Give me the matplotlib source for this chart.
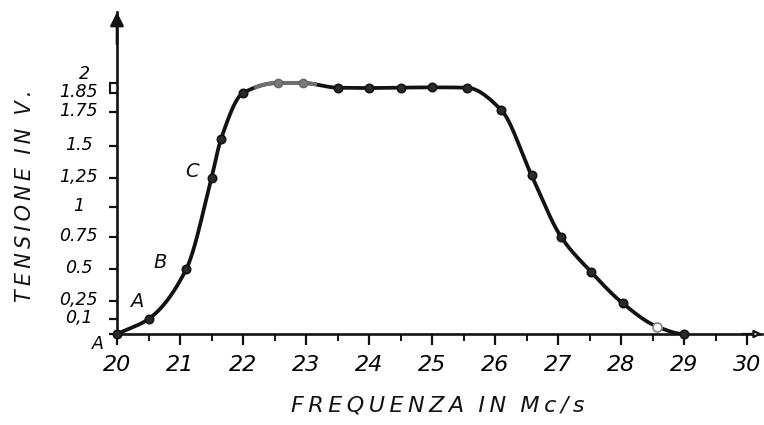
import numpy as np
import matplotlib
matplotlib.use("Agg")
import matplotlib.pyplot as plt
from matplotlib.transforms import ScaledTranslation

# Measured response: frequency (Mc/s) and output voltage (V)
freq_mcs = [20.0, 20.5, 21.1, 21.5, 21.65, 22.0, 22.55, 22.95, 23.5, 24.0,
            24.5, 25.0, 25.55, 26.1, 26.58, 27.05, 27.52, 28.03, 28.57, 29.0]
tension_v = [0.0, 0.1, 0.5, 1.25, 1.55, 1.85, 2.0, 2.0, 1.93, 1.925,
             1.93, 1.935, 1.93, 1.76, 1.27, 0.75, 0.48, 0.23, 0.05, 0.0]

x_ticks = list(range(20, 31))
x_tick_labels = [str(v) for v in x_ticks]
y_ticks = [0, 0.1, 0.25, 0.5, 0.75, 1, 1.25, 1.5, 1.75, 1.85, 2]
y_tick_labels = ["A", "0,1", "0,25", "0.5", "0.75", "1", "1,25", "1.5",
                 "1.75", "1.85", "2"]

# The voltage axis is ruled by hand: graduation value -> height above baseline
ruled_values = [0, 0.1, 0.25, 0.5, 0.75, 1, 1.25, 1.5, 1.75, 1.85, 2, 3]
ruled_heights = [0, 15, 33, 65, 97, 127, 156, 188, 222, 241, 251, 375]


def to_height(v):
    return np.interp(v, ruled_values, ruled_heights)


def to_value(h):
    return np.interp(h, ruled_heights, ruled_values)


def monotone_cubic(x, y, xs):
    """Fritsch-Carlson monotone cubic through (x, y), evaluated at xs."""
    x = np.asarray(x, float)
    y = np.asarray(y, float)
    h = np.diff(x)
    d = np.diff(y) / h
    m = np.zeros_like(y)
    for k in range(1, len(x) - 1):
        if d[k - 1] * d[k] > 0:
            w1 = 2 * h[k] + h[k - 1]
            w2 = h[k] + 2 * h[k - 1]
            m[k] = (w1 + w2) / (w1 / d[k - 1] + w2 / d[k])
    m[0] = d[0]
    m[-1] = 0.0
    idx = np.clip(np.searchsorted(x, xs) - 1, 0, len(x) - 2)
    t = (xs - x[idx]) / h[idx]
    h00 = 2 * t**3 - 3 * t**2 + 1
    h10 = t**3 - 2 * t**2 + t
    h01 = -2 * t**3 + 3 * t**2
    h11 = t**3 - t**2
    return (h00 * y[idx] + h10 * h[idx] * m[idx]
            + h01 * y[idx + 1] + h11 * h[idx] * m[idx + 1])


W, H = 764, 425
fig = plt.figure(figsize=(W / 100, H / 100), dpi=100)
fig.patch.set_facecolor("white")

x0_px, x_unit_px, y0_px, ytop_px = 117, 63.0, 334, 12
x_right = 20 + (762 - x0_px) / x_unit_px
ax = fig.add_axes([x0_px / W, (H - y0_px) / H,
                   (762 - x0_px) / W, (y0_px - ytop_px) / H])
ax.set_yscale("function", functions=(to_height, to_value))
ax.set_xlim(20, x_right)
ax.set_ylim(0, to_value(y0_px - ytop_px))

ink = "#121212"
for side in ("top", "right"):
    ax.spines[side].set_visible(False)
for side in ("left", "bottom"):
    ax.spines[side].set_color(ink)
    ax.spines[side].set_linewidth(1.9)

# Smooth curve through the measured points (interpolated in ruled height)
xs = np.linspace(freq_mcs[0], freq_mcs[-1], 800)
hs = monotone_cubic(freq_mcs, to_height(tension_v), xs)
ys = to_value(hs)
ax.plot(xs, ys, color=ink, lw=2.7, solid_capstyle="round", zorder=3)
faded = (xs > 22.2) & (xs < 23.15)
ax.plot(xs[faded], ys[faded], color="#6f6f6f", lw=2.9, zorder=4)

fx = np.array(freq_mcs)
fy = np.array(tension_v)
grey = (fx > 22.2) & (fx < 23.15)
light = (fx > 28.3) & (fx < 28.8)
dark = ~(grey | light)
ax.plot(fx[dark], fy[dark], "o", ms=6, mfc="#2a2a2a", mec=ink, mew=1.2,
        zorder=5, clip_on=False)
ax.plot(fx[grey], fy[grey], "o", ms=6, mfc="#7a7a7a", mec="#666666",
        mew=1.0, zorder=5)
ax.plot(fx[light], fy[light], "o", ms=6.5, mfc="white", mec="#8a8a8a",
        mew=1.3, zorder=5)

# Axes ticks and labels
font = dict(family="DejaVu Sans", style="italic")
ax.set_xticks(x_ticks)
ax.set_xticklabels(x_tick_labels, **font, fontsize=16)
ax.set_xticks(np.arange(20.5, 30.0, 1.0), minor=True)
ax.tick_params(axis="x", which="major", direction="out", length=8, width=1.6,
               color=ink, pad=7)
ax.tick_params(axis="x", which="minor", direction="out", length=5, width=1.4,
               color=ink)
ax.set_yticks(y_ticks)
ax.set_yticklabels(y_tick_labels, **font, fontsize=12.5)
ax.yaxis.set_minor_locator(matplotlib.ticker.NullLocator())
ax.tick_params(axis="y", direction="out", length=5.5, width=1.6, color=ink,
               pad=22)
for lab in ax.get_yticklabels():
    lab.set_horizontalalignment("center")
    dy = 3
    dx = 0
    if lab.get_text() == "2":
        dx, dy = 6, 11
    elif lab.get_text() == "A":
        dx, dy = 19, -8
    lab.set_transform(lab.get_transform()
                      + ScaledTranslation(dx / 100, dy / 100,
                                          fig.dpi_scale_trans))

# bracket joining the 1.85 and 2 graduations
ax.plot([20 - 7 / x_unit_px] * 2, [1.85, 2.0], color=ink, lw=1.5,
        clip_on=False)

# Axis arrows
ax.annotate("", xy=(0, 1.0), xycoords="axes fraction", xytext=(0, 0.9),
            arrowprops=dict(arrowstyle="-|>", color=ink, lw=1.9,
                            mutation_scale=20, shrinkA=0, shrinkB=0))
ax.annotate("", xy=(1.0, 0), xycoords="axes fraction", xytext=(0.97, 0),
            arrowprops=dict(arrowstyle="-|>", color=ink, lw=1.6,
                            mutation_scale=11, shrinkA=0, shrinkB=0,
                            fc="white"))

# Point markers on the rising edge
ax.text(20.32, 0.245, "A", **font, fontsize=14, color=ink,
        ha="center", va="center")
ax.text(20.68, 0.55, "B", **font, fontsize=14, color=ink,
        ha="center", va="center")
ax.text(21.19, 1.30, "C", **font, fontsize=14, color=ink,
        ha="center", va="center")

thin = "\u2009"
fig.text(25 / W, 1 - 196 / H, thin.join("TENSIONE") + "  " + thin.join("IN")
         + "  " + thin.join("V."), rotation=90, ha="center", va="center",
         fontsize=15, color=ink, **font)
fig.text(438 / W, 1 - 405 / H, thin.join("FREQUENZA") + "  "
         + thin.join("IN") + "  " + thin.join("Mc/s"), ha="center",
         va="center", fontsize=16, color=ink, **font)

fig.savefig("out.png", dpi=100, facecolor="white")
